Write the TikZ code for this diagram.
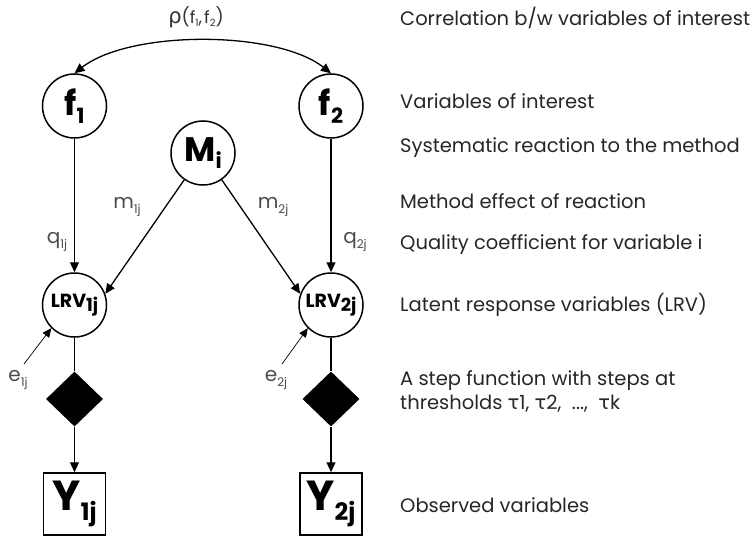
\documentclass[tikz,border=0pt]{standalone}
\usepackage{fontspec}
\setmainfont{Poppins}
\newfontfamily\greekfont{DejaVu Sans}
\usetikzlibrary{shapes.geometric,arrows.meta}
\newcommand\sublab[4]{{\fontsize{#1}{#1}\selectfont #3\raisebox{-0.22em}{\fontsize{#2}{#2}\selectfont #4}}}
\begin{document}
\begin{tikzpicture}[x=1pt,y=-1pt,
  circ/.style={circle,draw,line width=1.5pt,minimum size=64pt,inner sep=0pt},
  obs/.style={rectangle,draw,line width=1.5pt,minimum size=62pt,inner sep=0pt},
  thr/.style={diamond,fill=black,aspect=1,minimum width=57pt,minimum height=55pt,inner sep=0pt},
  arr/.style={-{Triangle[length=10pt,width=9pt]},line width=1.3pt},
  thinarr/.style={-{Triangle[length=9pt,width=8pt]},line width=0.7pt},
  desc/.style={anchor=west,font=\fontsize{19.5}{22}\selectfont,text=black!85,inner sep=0pt,text height=14pt,text depth=4pt},
  coef/.style={text=black!70,inner sep=0pt}]
\useasboundingbox (0,0) rectangle (751,537);

% nodes
\node[circ] (f1) at (74.5,106) {\bfseries\sublab{34}{21}{f}{1}};
\node[circ] (f2) at (331,106) {\bfseries\sublab{34}{21}{f}{2}};
\node[circ] (M) at (203,153) {\bfseries\sublab{34}{21}{M}{i}};
\node[circ] (L1) at (74.5,305) {\bfseries\sublab{19}{18}{LRV}{1j}};
\node[circ] (L2) at (331,305) {\bfseries\sublab{19}{18}{LRV}{2j}};
\node[thr] (D1) at (74.5,399) {};
\node[thr] (D2) at (331,399) {};
\node[obs] (Y1) at (74.5,504) {\bfseries\sublab{42}{24}{Y}{1j}};
\node[obs] (Y2) at (331,504) {\bfseries\sublab{42}{24}{Y}{2j}};

% correlation
\node[coef,text=black!80] (rho) at (196,17) {{\greekfont\fontsize{21}{21}\selectfont ρ}{\fontsize{18}{18}\selectfont(}\sublab{17}{10}{f}{1}{\fontsize{18}{18}\selectfont ,\hspace{2pt}}\sublab{17}{10}{f}{2}{\fontsize{18}{18}\selectfont )}};
\draw[{Triangle[length=10pt,width=9pt]}-{Triangle[length=10pt,width=9pt]},line width=1.3pt]
  (f1.north) .. controls (130,30) and (276,30) .. (f2.north);

% coefficient labels
\node[coef] (q1) at (57,242) {\sublab{20}{12}{q}{1j}};
\node[coef] (q2) at (355,242) {\sublab{20}{12}{q}{2j}};
\node[coef] (m1) at (127,207) {\sublab{20}{12}{m}{1j}};
\node[coef] (m2) at (273,207) {\sublab{20}{12}{m}{2j}};
\node[coef] (e1) at (18,380) {\sublab{20}{12}{e}{1j}};
\node[coef] (e2) at (276,380) {\sublab{20}{12}{e}{2j}};
\coordinate (e1s) at (24,364);
\coordinate (e2s) at (282,364);

% connectors
\draw[arr] (f1) -- (L1);
\draw[arr] (f2) -- (L2);
\draw[arr] (M.235) -- (L1.20);
\draw[arr] (M.305) -- (L2.160);
\draw[thinarr] (e1s) -- (L1.225);
\draw[thinarr] (e2s) -- (L2.225);
\draw[line width=1.3pt] (L1) -- (D1);
\draw[line width=1.3pt] (L2) -- (D2);
\draw[arr] (D1) -- (Y1);
\draw[arr] (D2) -- (Y2);

% descriptions
\node[desc] (t1) at (400,21) {Correlation b/w variables of interest};
\node[desc] (t2) at (400,104) {Variables of interest};
\node[desc] (t3) at (400,148) {Systematic reaction to the method};
\node[desc] (t4) at (400,203) {Method effect of reaction};
\node[desc] (t5) at (400,244) {Quality coefficient for variable i};
\node[desc] (t6) at (400,306) {Latent response variables (LRV)};
\node[desc] (t7) at (400,380) {A step function with steps at};
\node[desc] (t8) at (400,404) {thresholds {\greekfont τ}1, {\greekfont τ}2,\ \ ...,\ \ {\greekfont τ}k};
\node[desc] (t9) at (400,507) {Observed variables};
\end{tikzpicture}
\end{document}
